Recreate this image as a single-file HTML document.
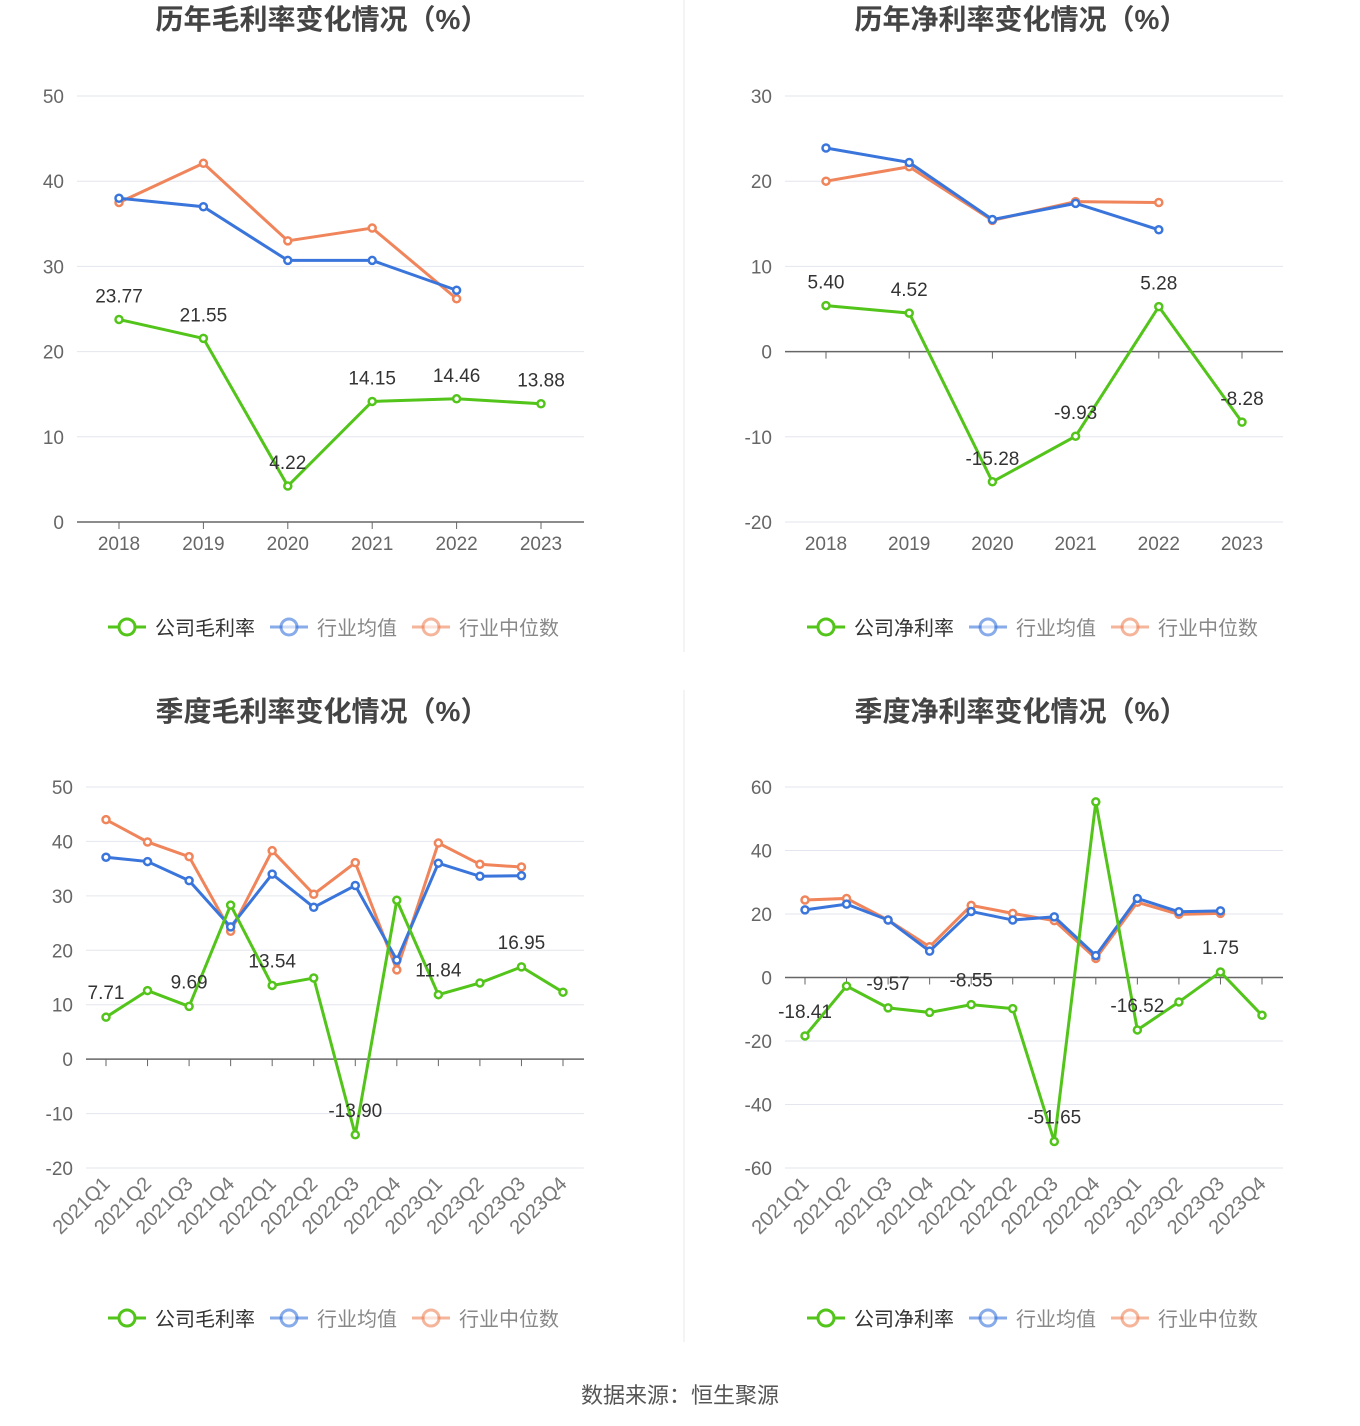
<!DOCTYPE html>
<html><head><meta charset="utf-8"><style>
html,body{margin:0;padding:0;background:#fff;width:1360px;height:1426px;overflow:hidden}
svg{display:block;font-family:"Liberation Sans","Noto Sans CJK SC",sans-serif}
</style></head><body>
<svg id="s" width="1360" height="1426" viewBox="0 0 1360 1426">
<line x1="684" y1="0" x2="684" y2="652" stroke="#e8e8e8"/>
<line x1="684" y1="690" x2="684" y2="1342" stroke="#e8e8e8"/>
<text x="680" y="1403" text-anchor="middle" font-size="22" fill="#555">数据来源：恒生聚源</text>
</svg>
<script>
// ---- chart data ----
const yearCats = ["2018","2019","2020","2021","2022","2023"];
const qCats = ["2021Q1","2021Q2","2021Q3","2021Q4","2022Q1","2022Q2","2022Q3","2022Q4","2023Q1","2023Q2","2023Q3","2023Q4"];
const grossYearCompany = [23.77,21.55,4.22,14.15,14.46,13.88];
const grossYearAvg = [38.0,37.0,30.7,30.7,27.2];
const grossYearMedian = [37.5,42.1,33.0,34.5,26.2];
const netYearCompany = [5.40,4.52,-15.28,-9.93,5.28,-8.28];
const netYearAvg = [23.9,22.2,15.5,17.4,14.3];
const netYearMedian = [20.0,21.7,15.4,17.6,17.5];
const grossQCompany = [7.71,12.6,9.69,28.3,13.54,14.9,-13.90,29.2,11.84,14.0,16.95,12.3];
const grossQAvg = [37.1,36.3,32.8,24.3,34.0,27.9,31.9,18.2,36.0,33.6,33.7];
const grossQMedian = [44.0,39.9,37.2,23.5,38.3,30.3,36.1,16.4,39.7,35.8,35.3];
const netQCompany = [-18.41,-2.7,-9.57,-11.0,-8.55,-9.8,-51.65,55.3,-16.52,-7.7,1.75,-11.9];
const netQAvg = [21.3,23.1,18.1,8.3,20.8,18.1,19.1,6.9,24.9,20.7,21.0];
const netQMedian = [24.4,24.9,18.1,9.7,22.7,20.2,17.9,6.0,23.7,19.9,20.2];
const grossYearTicks = [0,10,20,30,40,50];
const netYearTicks = [-20,-10,0,10,20,30];
const grossQTicks = [-20,-10,0,10,20,30,40,50];
const netQTicks = [-60,-40,-20,0,20,40,60];

const NS="http://www.w3.org/2000/svg";
const svg=document.getElementById('s');
function mk(tag,attrs,parent,text){const e=document.createElementNS(NS,tag);for(const k in attrs)e.setAttribute(k,attrs[k]);if(text!==undefined)e.textContent=text;(parent||svg).appendChild(e);return e;}
const GREEN="#52c41a",BLUE="#3a75dc",ORANGE="#f0845a";

function chart(o){
  const g=mk('g',{});
  
  
  const t0=o.ticks[0],t1=o.ticks[o.ticks.length-1];
  const Y=v=>o.yBot-(v-t0)/(t1-t0)*(o.yBot-o.yTop);
  const n=o.cats.length;
  const X=i=>o.xFirst+i*(o.xLast-o.xFirst)/(n-1);
  const title=mk('text',{x:o.cx,y:o.titleY,'text-anchor':'middle','font-size':28,'font-weight':'bold',fill:'#444'},g,o.title);
  
  
  o.ticks.forEach(v=>{
    const gl=mk('line',{x1:o.axL,x2:o.axR,y1:Y(v),y2:Y(v),stroke:v===0?'#666':'#e3e6ee','stroke-width':v===0?1.5:1},g);
    
    
    const tl=mk('text',{x:o.labX,y:Y(v)+7,'text-anchor':'end','font-size':19,fill:'#666'},g,String(v));
    
    
  });
  o.cats.forEach((c,i)=>{
    mk('line',{x1:X(i),x2:X(i),y1:Y(0),y2:Y(0)+7,stroke:'#666'},g);
    let tl;
    if(o.rot){tl=mk('text',{x:X(i)+5,y:o.yBot+17,'text-anchor':'end','font-size':20,fill:'#777',transform:`rotate(-45 ${X(i)+5} ${o.yBot+17})`},g,c);}
    else tl=mk('text',{x:X(i),y:o.yBot+28,'text-anchor':'middle','font-size':19,fill:'#666'},g,c);
    
    
  });
  [[o.med,ORANGE,'median-series'],[o.avg,BLUE,'average-series'],[o.comp,GREEN,'company-series']].forEach(([arr,col,nm])=>{
    const pl=mk('polyline',{points:arr.map((v,i)=>X(i)+','+Y(v)).join(' '),fill:'none',stroke:col,'stroke-width':3},g);
    
    
    arr.forEach((v,i)=>{
      const c=mk('circle',{cx:X(i),cy:Y(v),r:3.5,fill:'#fff',stroke:col,'stroke-width':2.5},g);
      
      
    });
  });
  o.comp.forEach((v,i)=>{
    if(o.labelEvery&&i%2)return;
    const l=mk('text',{x:X(i),y:Y(v)-o.labOff,'text-anchor':'middle','font-size':19,fill:'#333'},g,v.toFixed(2));
    
    
  });
  const lx=o.legX, ly=o.legY;
  [[GREEN,o.leg0,'#333',1],[BLUE,'行业均值','#888',0.6],[ORANGE,'行业中位数','#888',0.6]].forEach(([col,txt,tc,op],k)=>{
    const off=[0,162,304][k];
    const lg=mk('g',{opacity:1},g);
    
    
    mk('line',{x1:lx+off,x2:lx+off+38,y1:ly,y2:ly,stroke:col,'stroke-width':3,opacity:op},lg);
    mk('circle',{cx:lx+off+19,cy:ly,r:8,fill:'#fff',stroke:col,'stroke-width':3,opacity:op},lg);
    mk('text',{x:lx+off+47,y:ly+8,'font-size':20,fill:tc},lg,txt);
  });
}
chart({name:'annual-gross-margin-chart',title:'历年毛利率变化情况（%）',cx:322,titleY:29,cats:yearCats,ticks:grossYearTicks,yTop:96,yBot:522,xFirst:119,xLast:541,axL:77,axR:584,labX:64,comp:grossYearCompany,avg:grossYearAvg,med:grossYearMedian,labOff:17,leg0:'公司毛利率',legX:108,legY:627});
chart({name:'annual-net-margin-chart',title:'历年净利率变化情况（%）',cx:1021,titleY:29,cats:yearCats,ticks:netYearTicks,yTop:96,yBot:522,xFirst:826,xLast:1242,axL:785,axR:1283,labX:772,comp:netYearCompany,avg:netYearAvg,med:netYearMedian,labOff:17,leg0:'公司净利率',legX:807,legY:627});
chart({name:'quarterly-gross-margin-chart',title:'季度毛利率变化情况（%）',cx:322,titleY:721,cats:qCats,ticks:grossQTicks,yTop:787,yBot:1168,xFirst:106,xLast:563,axL:86,axR:584,labX:73,comp:grossQCompany,avg:grossQAvg,med:grossQMedian,labOff:18,labelEvery:true,rot:true,leg0:'公司毛利率',legX:108,legY:1318});
chart({name:'quarterly-net-margin-chart',title:'季度净利率变化情况（%）',cx:1021,titleY:721,cats:qCats,ticks:netQTicks,yTop:787,yBot:1168,xFirst:805,xLast:1262,axL:785,axR:1283,labX:772,comp:netQCompany,avg:netQAvg,med:netQMedian,labOff:18,labelEvery:true,rot:true,leg0:'公司净利率',legX:807,legY:1318});
</script>
</body></html>
